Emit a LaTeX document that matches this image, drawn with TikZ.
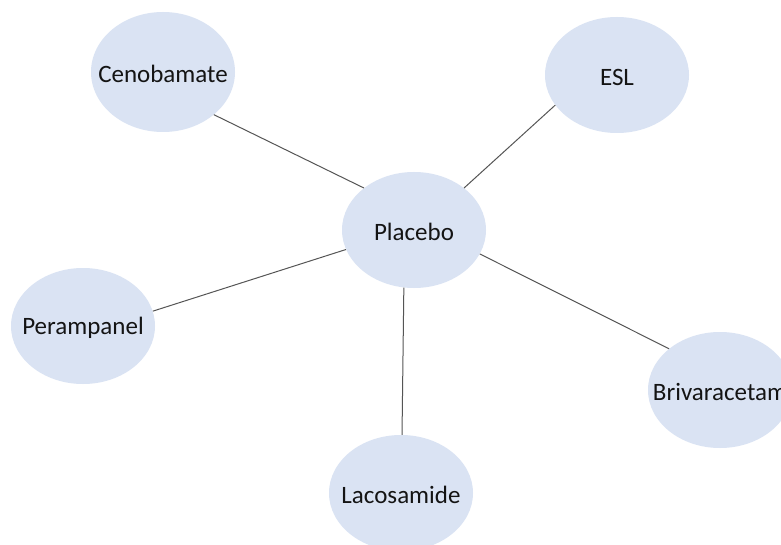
\documentclass[tikz,border=0pt]{standalone}
\usepackage{fontspec}
\setmainfont{Carlito}
\usetikzlibrary{shapes.geometric}
\definecolor{bubble}{RGB}{218,227,243}
\definecolor{linkgray}{RGB}{85,85,85}
\definecolor{ink}{RGB}{20,20,20}
\tikzset{
  drug/.style={ellipse, fill=bubble, draw=none, inner sep=0pt,
    minimum width=144pt, minimum height=116pt,
    label={[text=ink, font=\fontsize{25}{30}\selectfont, yshift=-2pt]center:#1}},
  link/.style={draw=linkgray, line width=1pt}
}
\begin{document}
\begin{tikzpicture}[x=1pt, y=-1pt]
  \useasboundingbox (0,0) rectangle (781,545);
  \clip (0,0) rectangle (781,545);
  \fill[white] (0,0) rectangle (781,545);

  % drugs around the comparator
  \node[drug=Cenobamate, minimum height=120pt] (ceno) at (163,72) {};
  \node[drug=ESL] (esl) at (617,75) {};
  \node[drug=Placebo] (plac) at (414,230) {};
  \node[drug=Perampanel] (peram) at (83,326) {};
  \node[drug=Brivaracetam] (briv) at (720,390) {};
  \node[drug=Lacosamide] (laco) at (401,493) {};

  % comparisons with placebo
  \draw[link] (ceno.-40) -- (plac.140);
  \draw[link] (esl.206) -- (plac.40);
  \draw[link] (peram.12) -- (plac.196);
  \draw[link] (briv.141) -- (plac.-20);
  \draw[link] (laco.89) -- (plac.260);
\end{tikzpicture}
\end{document}
